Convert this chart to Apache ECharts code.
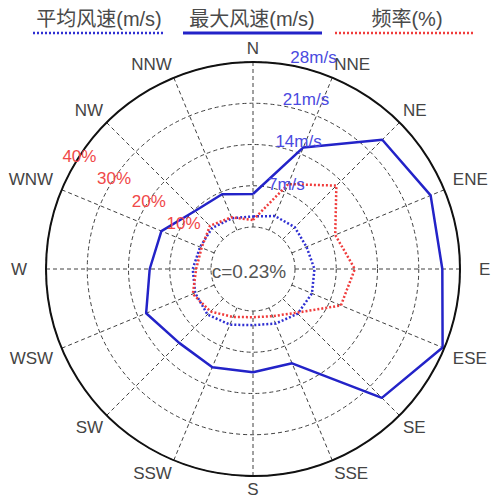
<!DOCTYPE html>
<html>
<head>
<meta charset="utf-8">
<script src="https://cdn.jsdelivr.net/npm/echarts@6/dist/echarts.min.js"></script>
<style>
html,body{margin:0;padding:0;background:#fff;}
#chart{width:496px;height:499px;}
</style>
</head>
<body>
<div id="chart"></div>
<script>
// ---- data ----
const directions = ['N','NNE','NE','ENE','E','ESE','SE','SSE','S','SSW','SW','WSW','W','WNW','NW','NNW'];
const avgSpeed  = [1.8, 2.6, 2.9, 2.7, 3.3, 3.7, 3.6, 2.9, 2.4, 3.1, 3.8, 3.5, 3.1, 2.6, 2.7, 2.2];
const maxSpeed  = [5.6, 15.2, 23.9, 25.5, 25.0, 27.7, 23.8, 10.2, 10.4, 10.9, 10.6, 12.5, 10.4, 9.7, 6.8, 6.6];
const frequency = [1.7, 12.1, 18.4, 11.4, 14.5, 12.9, 4.8, 2.2, 1.5, 2.4, 4.4, 5.6, 3.6, 3.3, 4.6, 3.4];
const speedTicks = [0, 7, 14, 21, 28];
const freqTicks  = [0, 10, 20, 30, 40];
const seriesNames = ['平均风速(m/s)', '最大风速(m/s)', '频率(%)'];
const calmLabel = 'c=0.23%';

// ---- layout / style ----
const C = [253, 269];
const R = [42, 207];
const step = 360 / directions.length;
const latin = '"Liberation Sans", Arial, sans-serif';
const cjk = '"Liberation Sans", "Noto Sans CJK SC", sans-serif';
const colAvg = '#2f2fd2', colMax = '#2323c8', colFreq = '#f03c3c';

function loop(values) {
  const pts = values.map((v, i) => [v, i * step]);
  pts.push([values[0], 360]);
  return pts;
}
const sMin = speedTicks[0], sMax = speedTicks[speedTicks.length - 1], sInt = speedTicks[1] - speedTicks[0];
const fMin = freqTicks[0], fMax = freqTicks[freqTicks.length - 1], fInt = freqTicks[1] - freqTicks[0];

const gridDash = { color: '#404040', width: 1, type: [4, 3] };

const chart = echarts.init(document.getElementById('chart'), null, { renderer: 'svg' });
const legendX = [99, 252, 407];
const legendLine = [[33, 165], [183, 322], [335, 475]];
const legendStyle = [
  { stroke: colAvg, lineWidth: 2.5, lineDash: [2, 2] },
  { stroke: colMax, lineWidth: 3, lineDash: null },
  { stroke: colFreq, lineWidth: 2.5, lineDash: [2, 2] }
];
const graphics = [];
seriesNames.forEach((n, i) => {
  graphics.push({
    type: 'text', z: 10,
    style: { text: n, x: legendX[i], y: 19, align: 'center', verticalAlign: 'middle',
             textAlign: 'center', textVerticalAlign: 'middle',
             fill: '#4a4a4a', font: '20px ' + cjk }
  });
  graphics.push({
    type: 'line', z: 10,
    shape: { x1: legendLine[i][0], y1: 33, x2: legendLine[i][1], y2: 33 },
    style: legendStyle[i]
  });
});
graphics.push({
  type: 'text', z: 10,
  style: { text: calmLabel, x: 249, y: 271, align: 'center', verticalAlign: 'middle',
           textAlign: 'center', textVerticalAlign: 'middle',
           fill: '#555', font: '19px ' + latin }
});

const dirRich = {
  e: { padding: [0, 0, 0, 14], color: '#444', fontSize: 17, fontFamily: latin, lineHeight: 17 },
  w: { padding: [0, 14, 0, 0], color: '#444', fontSize: 17, fontFamily: latin, lineHeight: 17 },
  r: { padding: [0, 0, 0, 4], color: '#444', fontSize: 17, fontFamily: latin, lineHeight: 17 },
  l: { padding: [0, 4, 0, 0], color: '#444', fontSize: 17, fontFamily: latin, lineHeight: 17 }
};
function dirLabel(v) {
  const d = directions[Math.round(v / step) % directions.length];
  if (d === 'E') return '{e|E}';
  if (d === 'W') return '{w|W}';
  if (d === 'ENE' || d === 'ESE') return '{r|' + d + '}';
  if (d === 'WNW' || d === 'WSW') return '{l|' + d + '}';
  return d;
}

const option = {
  animation: false,
  backgroundColor: '#fff',
  polar: [
    { center: C, radius: R },
    { center: C, radius: R },
    { center: C, radius: [43, 215] },
    { center: C, radius: [0, R[1]] }
  ],
  angleAxis: [
    { polarIndex: 0, type: 'value', min: 0, max: 360, interval: step, startAngle: 90, clockwise: true,
      axisLine: { show: false },
      axisTick: { show: false },
      splitLine: { show: true, lineStyle: gridDash },
      axisLabel: { show: true, margin: 5, color: '#444', fontSize: 17, fontFamily: latin, lineHeight: 17,
        formatter: dirLabel, rich: dirRich } },
    { polarIndex: 1, type: 'value', min: 0, max: 360, startAngle: 90, clockwise: true, show: false },
    { polarIndex: 2, type: 'value', min: 0, max: 360, startAngle: 80, clockwise: true, show: false },
    { polarIndex: 3, type: 'value', min: 0, max: 360, startAngle: 147, clockwise: true, z: 8,
      axisLine: { show: true, lineStyle: { color: '#111', width: 2 } },
      axisTick: { show: false }, axisLabel: { show: false }, splitLine: { show: false } }
  ],
  radiusAxis: [
    { polarIndex: 0, type: 'value', min: sMin, max: sMax, interval: sInt,
      axisLine: { show: false }, axisTick: { show: false }, axisLabel: { show: false },
      splitLine: { show: true, lineStyle: gridDash } },
    { polarIndex: 1, type: 'value', min: fMin, max: fMax, interval: fInt, show: false,
      axisLine: { show: false }, axisTick: { show: false }, axisLabel: { show: false }, splitLine: { show: false } },
    { polarIndex: 2, type: 'value', min: sMin, max: sMax, interval: sInt, z: 20,
      axisLine: { show: false }, axisTick: { show: false }, splitLine: { show: false },
      axisLabel: { show: true, margin: 0, align: 'left', verticalAlign: 'middle', hideOverlap: false,
        color: '#4a4ae0', fontSize: 17, fontFamily: latin,
        formatter: v => v === sMin ? '' : v + 'm/s' } },
    { polarIndex: 3, type: 'value', min: fMin - fInt, max: fMax, interval: fInt, z: 20,
      axisLine: { show: false }, axisTick: { show: false }, splitLine: { show: false },
      axisLabel: { show: true, margin: 0, align: 'center', verticalAlign: 'middle', hideOverlap: false,
        color: '#f04848', fontSize: 17, fontFamily: latin,
        formatter: v => v <= fMin ? '' : v + '%' } }
  ],
  series: [
    { name: seriesNames[0], type: 'line', coordinateSystem: 'polar', polarIndex: 0,
      data: loop(avgSpeed), symbol: 'none', z: 5,
      lineStyle: { color: colAvg, width: 2.5, type: [2, 2] } },
    { name: seriesNames[1], type: 'line', coordinateSystem: 'polar', polarIndex: 0,
      data: loop(maxSpeed), symbol: 'none', z: 6,
      lineStyle: { color: colMax, width: 2.5, type: 'solid' } },
    { name: seriesNames[2], type: 'line', coordinateSystem: 'polar', polarIndex: 1,
      data: loop(frequency), symbol: 'none', z: 5,
      lineStyle: { color: colFreq, width: 2.5, type: [2, 2] } }
  ],
  graphic: graphics
};
chart.setOption(option);
</script>
</body>
</html>
